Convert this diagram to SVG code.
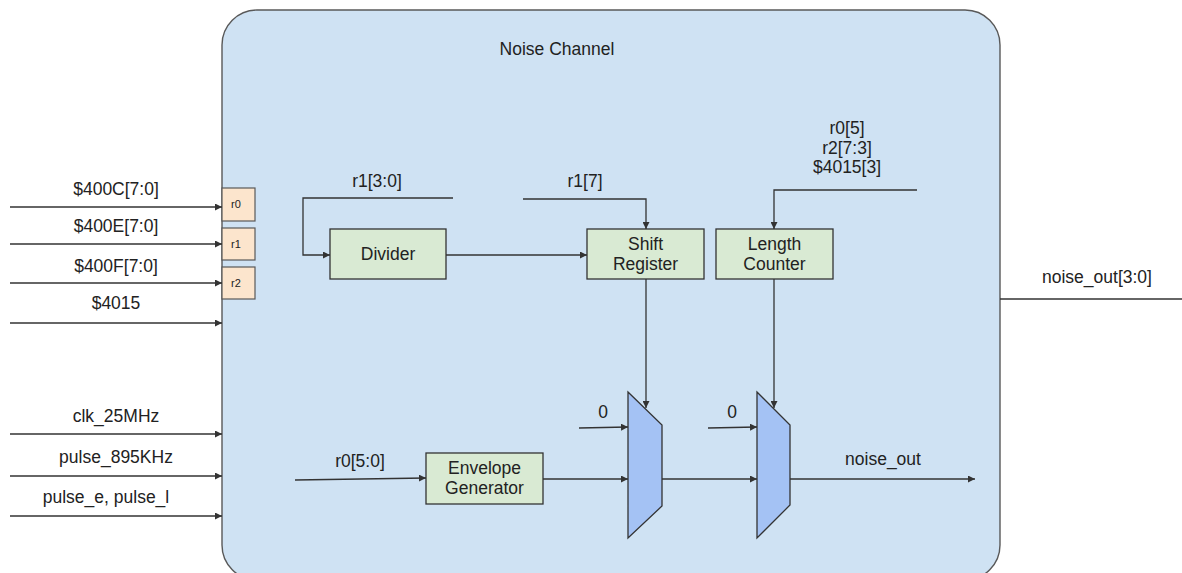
<svg xmlns="http://www.w3.org/2000/svg" width="1182" height="573" viewBox="0 0 1182 573">
  <defs>
    <marker id="arrow" viewBox="0 0 10 10" refX="10" refY="5" markerWidth="7" markerHeight="7" markerUnits="userSpaceOnUse" orient="auto">
      <path d="M0,0 L10,5 L0,10 z" fill="#333333"/>
    </marker>
    <style>
      text { font-family: "Liberation Sans", Arial, sans-serif; font-size: 17.5px; fill: #222222; text-anchor: middle; }
      .small { font-size: 11px; }
      .wire { fill: none; stroke: #333333; stroke-width: 1.3; }
      .arr { marker-end: url(#arrow); }
      .block { fill: #d9ead3; stroke: #333333; stroke-width: 1.3; }
      .reg { fill: #fce5cd; stroke: #595959; stroke-width: 1.2; }
      .mux { fill: #a4c2f4; stroke: #333333; stroke-width: 1.3; }
    </style>
  </defs>

  <rect width="1182" height="573" fill="#ffffff"/>

  <!-- channel container -->
  <g id="noise-channel">
    <rect x="222" y="10" width="778" height="570" rx="35" ry="35" fill="#cfe2f3" stroke="#595959" stroke-width="1.4"/>
    <text x="557" y="55">Noise Channel</text>
  </g>

  <!-- register latches -->
  <g id="reg-r0">
    <rect class="reg" x="222" y="188" width="33" height="33"/>
    <text class="small" x="236" y="208">r0</text>
  </g>
  <g id="reg-r1">
    <rect class="reg" x="222" y="228" width="33" height="32"/>
    <text class="small" x="236" y="248">r1</text>
  </g>
  <g id="reg-r2">
    <rect class="reg" x="222" y="267" width="33" height="32"/>
    <text class="small" x="236" y="287">r2</text>
  </g>

  <!-- functional blocks -->
  <g id="divider">
    <rect class="block" x="330" y="229" width="116" height="50"/>
    <text x="388" y="260">Divider</text>
  </g>
  <g id="shift-register">
    <rect class="block" x="587" y="229" width="117" height="50"/>
    <text x="645.5" y="250">Shift</text>
    <text x="645.5" y="270">Register</text>
  </g>
  <g id="length-counter">
    <rect class="block" x="716" y="229" width="117" height="50"/>
    <text x="774.5" y="250">Length</text>
    <text x="774.5" y="270">Counter</text>
  </g>
  <g id="envelope-generator">
    <rect class="block" x="426" y="453" width="117" height="51"/>
    <text x="484.5" y="474">Envelope</text>
    <text x="484.5" y="494">Generator</text>
  </g>
  <g id="mux-1">
    <polygon class="mux" points="628,392 662,425 662,506 628,538"/>
  </g>
  <g id="mux-2">
    <polygon class="mux" points="757,392 790,425 790,505 757,538"/>
  </g>

  <!-- connectors -->
  <g id="connectors">
    <!-- external inputs -->
    <line class="wire arr" x1="10" y1="207" x2="222" y2="207"/>
    <line class="wire arr" x1="10" y1="244" x2="222" y2="244"/>
    <line class="wire arr" x1="10" y1="283" x2="222" y2="283"/>
    <line class="wire arr" x1="10" y1="323" x2="222" y2="323"/>
    <line class="wire arr" x1="10" y1="434" x2="222" y2="434"/>
    <line class="wire arr" x1="10" y1="476" x2="222" y2="476"/>
    <line class="wire arr" x1="10" y1="516" x2="222" y2="516"/>

    <!-- internal signals -->
    <polyline class="wire arr" points="453,198 303,198 303,255 330,255"/>
    <line class="wire arr" x1="446" y1="255" x2="587" y2="255"/>
    <polyline class="wire arr" points="523,199 646,199 646,229"/>
    <polyline class="wire arr" points="917,190 774,190 774,229"/>
    <line class="wire arr" x1="646" y1="279" x2="646" y2="408"/>
    <line class="wire arr" x1="774" y1="279" x2="774" y2="408"/>
    <line class="wire arr" x1="579" y1="428" x2="628" y2="427"/>
    <line class="wire arr" x1="708" y1="428" x2="757" y2="427"/>
    <line class="wire arr" x1="295" y1="480" x2="426" y2="478"/>
    <line class="wire arr" x1="543" y1="479" x2="628" y2="479"/>
    <line class="wire arr" x1="662" y1="479" x2="757" y2="479"/>
    <line class="wire arr" x1="790" y1="479" x2="975" y2="479"/>

    <!-- output -->
    <line class="wire" x1="1000" y1="299" x2="1182" y2="299"/>
  </g>

  <!-- signal labels -->
  <g id="labels">
    <text x="116" y="195">$400C[7:0]</text>
    <text x="116" y="232">$400E[7:0]</text>
    <text x="116" y="272">$400F[7:0]</text>
    <text x="116" y="309">$4015</text>
    <text x="116" y="422">clk_25MHz</text>
    <text x="116" y="463">pulse_895KHz</text>
    <text x="106" y="503">pulse_e, pulse_l</text>
    <text x="377" y="187">r1[3:0]</text>
    <text x="585" y="187">r1[7]</text>
    <text x="847" y="134">r0[5]</text>
    <text x="847" y="154">r2[7:3]</text>
    <text x="847" y="173">$4015[3]</text>
    <text x="360" y="467">r0[5:0]</text>
    <text x="603" y="418">0</text>
    <text x="732" y="418">0</text>
    <text x="883" y="465">noise_out</text>
    <text x="1097" y="283">noise_out[3:0]</text>
  </g>
</svg>
